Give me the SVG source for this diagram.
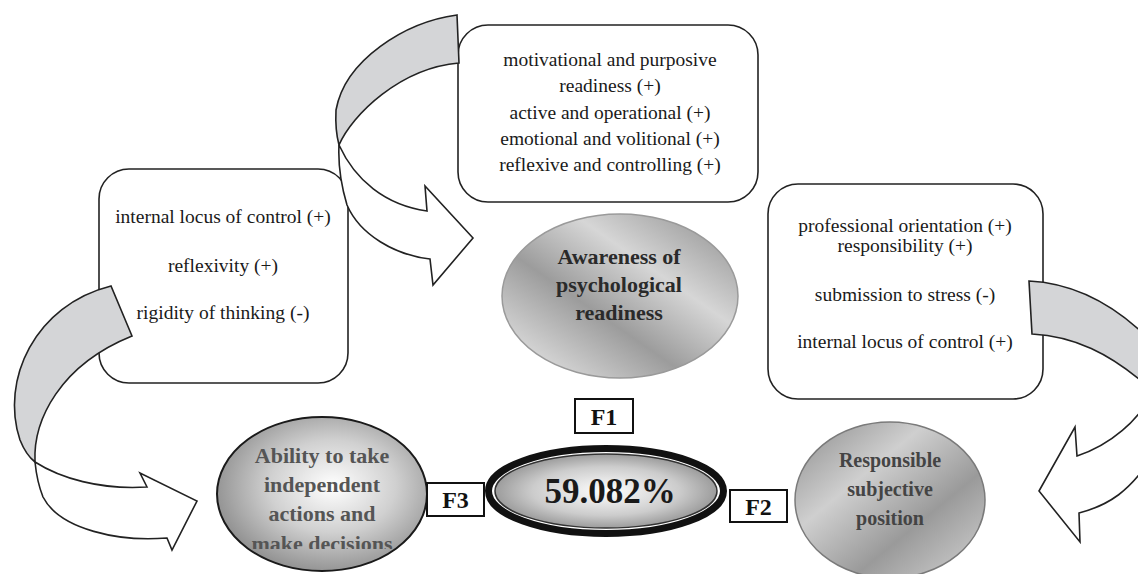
<svg xmlns="http://www.w3.org/2000/svg" width="1138" height="574" viewBox="0 0 1138 574">
<defs>
<style>
.box{fill:#fff;stroke:#222;stroke-width:1.6}
.bt{font-family:"Liberation Serif",serif;font-size:19.5px;fill:#1a1a1a;text-anchor:middle}
.et{font-family:"Liberation Serif",serif;font-size:22px;font-weight:bold;text-anchor:middle}
.fb{fill:#fff;stroke:#111;stroke-width:2}
.ft{font-family:"Liberation Serif",serif;font-size:24px;font-weight:bold;fill:#111;text-anchor:middle}
.gray{fill:#d4d5d7;stroke:#222;stroke-width:1.6;stroke-linejoin:miter}
.white{fill:#fff;stroke:#222;stroke-width:1.6;stroke-linejoin:miter}
</style>
<linearGradient id="gAw" x1="1" y1="0" x2="0" y2="1">
<stop offset="0" stop-color="#8a8a8a"/>
<stop offset="0.35" stop-color="#d6d6d6"/>
<stop offset="0.6" stop-color="#9c9c9c"/>
<stop offset="0.85" stop-color="#d2d2d2"/>
<stop offset="1" stop-color="#b4b4b4"/>
</linearGradient>
<linearGradient id="gRe" x1="0" y1="0" x2="1" y2="1">
<stop offset="0" stop-color="#8c8c8c"/>
<stop offset="0.35" stop-color="#cfcfcf"/>
<stop offset="0.65" stop-color="#9a9a9a"/>
<stop offset="1" stop-color="#d4d4d4"/>
</linearGradient>
<radialGradient id="gAb" cx="0.55" cy="0.45" r="0.6">
<stop offset="0" stop-color="#ffffff"/>
<stop offset="0.5" stop-color="#d0d0d0"/>
<stop offset="1" stop-color="#8a8a8a"/>
</radialGradient>
<radialGradient id="gCe" cx="0.5" cy="0.5" r="0.55">
<stop offset="0" stop-color="#ffffff"/>
<stop offset="0.6" stop-color="#cccccc"/>
<stop offset="1" stop-color="#8e8e8e"/>
</radialGradient>
<clipPath id="clipAb"><rect x="200" y="400" width="250" height="149"/></clipPath>
</defs>
<rect width="1138" height="574" fill="#fff"/>

<g id="node-top">
<rect class="box" x="458" y="25" width="300" height="177" rx="30"/>
<text class="bt" x="610" y="66">motivational and purposive</text>
<text class="bt" x="610" y="92">readiness (+)</text>
<text class="bt" x="610" y="119">active and operational (+)</text>
<text class="bt" x="610" y="145">emotional and volitional (+)</text>
<text class="bt" x="610" y="171">reflexive and controlling (+)</text>
</g>

<g id="node-left">
<rect class="box" x="99" y="169" width="249" height="214" rx="30"/>
<text class="bt" x="223" y="223">internal locus of control (+)</text>
<text class="bt" x="223" y="272">reflexivity (+)</text>
<text class="bt" x="223" y="319">rigidity of thinking (-)</text>
</g>

<g id="node-right">
<rect class="box" x="768" y="184" width="275" height="215" rx="30"/>
<text class="bt" x="905" y="232">professional orientation (+)</text>
<text class="bt" x="905" y="252">responsibility (+)</text>
<text class="bt" x="905" y="301">submission to stress (-)</text>
<text class="bt" x="905" y="348">internal locus of control (+)</text>
</g>

<g id="node-awareness">
<ellipse cx="620" cy="296" rx="118" ry="82" fill="url(#gAw)" stroke="#9a9a9a" stroke-width="1.5"/>
<text class="et" x="619" y="264" fill="#2a2a2a">Awareness of</text>
<text class="et" x="619" y="292" fill="#2a2a2a">psychological</text>
<text class="et" x="619" y="320" fill="#2a2a2a">readiness</text>
</g>

<g id="node-ability">
<ellipse cx="322" cy="494" rx="105" ry="77" fill="url(#gAb)" stroke="#1a1a1a" stroke-width="2"/>
<g clip-path="url(#clipAb)">
<text class="et" x="322" y="463" fill="#555">Ability to take</text>
<text class="et" x="322" y="492" fill="#555">independent</text>
<text class="et" x="322" y="521" fill="#555">actions and</text>
<text class="et" x="322" y="551" fill="#555">make decisions</text>
</g>
</g>

<g id="node-responsible">
<ellipse cx="890" cy="500" rx="95" ry="78" fill="url(#gRe)" stroke="#7a7a7a" stroke-width="1.5"/>
<text class="et" x="890" y="467" fill="#444" style="font-size:20px">Responsible</text>
<text class="et" x="890" y="496" fill="#444" style="font-size:20px">subjective</text>
<text class="et" x="890" y="525" fill="#444" style="font-size:20px">position</text>
</g>

<g id="node-center">
<ellipse cx="606" cy="491" rx="117.5" ry="42.5" fill="#fff" stroke="#111" stroke-width="7"/>
<ellipse cx="606" cy="491" rx="111" ry="37" fill="url(#gCe)" stroke="#333" stroke-width="1.5"/>
<text x="610" y="503" style="font-family:'Liberation Serif',serif;font-size:35px;font-weight:bold;fill:#1a1a1a;text-anchor:middle">59.082%</text>
</g>

<g id="label-f1">
<rect class="fb" x="575" y="399" width="58" height="34"/>
<text class="ft" x="604" y="425">F1</text>
</g>
<g id="label-f3">
<rect class="fb" x="427" y="483" width="57" height="33"/>
<text class="ft" x="455.5" y="508">F3</text>
</g>
<g id="label-f2">
<rect class="fb" x="730" y="490" width="57" height="32"/>
<text class="ft" x="758.5" y="515">F2</text>
</g>

<g id="connectors">
<path class="gray" d="M457,15 C405,22 345,60 336,110 Q335,130 339,145 C352,115 400,68 459,63 Z"/>
<path class="white" d="M339,145 C355,180 385,205 427,211 L425,186 L473,238 L433,285 L430,259 C395,255 360,235 347,205 C341,185 338,165 339,145 Z"/>

<path class="gray" d="M111,286 C35,305 0,380 20,440 Q26,455 35,462 C33,420 60,365 132,336 Z"/>
<path class="white" d="M35,462 C60,478 100,490 147,487 L140,473 L197,501 L172,550 L167,538 C120,542 60,530 43,497 Q37,482 35,462 Z"/>

<path class="gray" d="M1029,281 C1070,283 1110,300 1150,340 L1158,396 C1110,350 1070,336 1032,334 Z"/>
<path class="white" d="M1152,392 C1140,420 1110,445 1077,456 L1075,427 L1039,491 L1080,542 L1079,513 C1110,505 1130,490 1150,460 L1160,440 Z"/>
</g>
</svg>
